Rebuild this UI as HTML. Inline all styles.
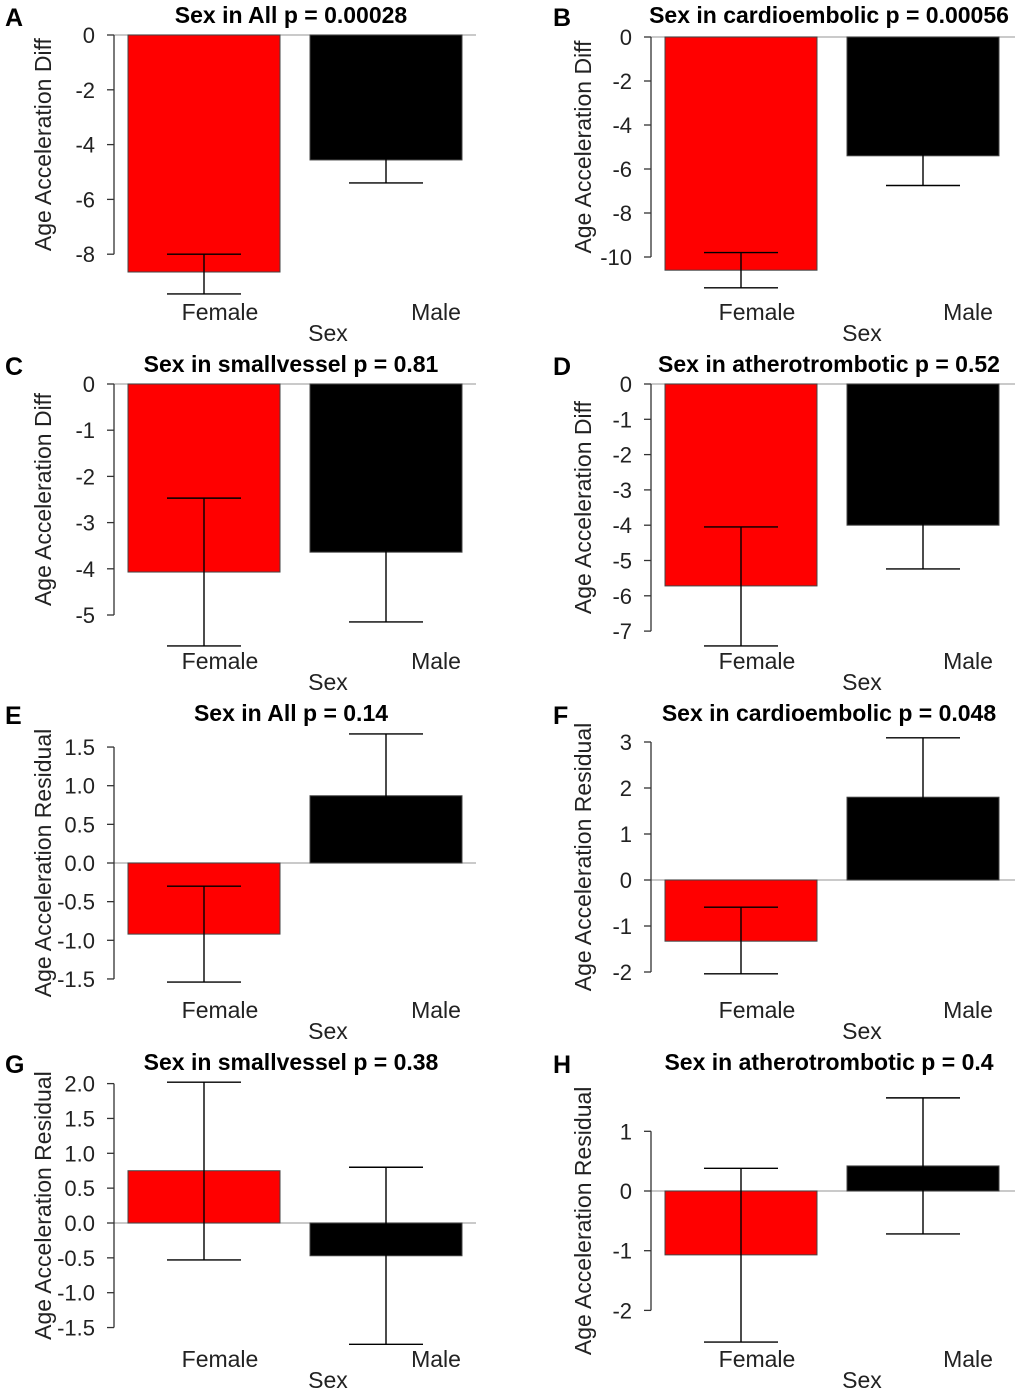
<!DOCTYPE html>
<html><head><meta charset="utf-8"><style>
html,body{margin:0;padding:0;background:#fff;}
svg{display:block;font-family:"Liberation Sans",Arial,sans-serif;}
</style></head><body>
<svg id="fig" width="1020" height="1395" viewBox="0 0 1020 1395" xmlns="http://www.w3.org/2000/svg"></svg>
<script>
// ---- data (per panel) ----
const categories = ["Female", "Male"];
const panelLetters = ["A","B","C","D","E","F","G","H"];
const titles = ["Sex in All p = 0.00028","Sex in cardioembolic p = 0.00056","Sex in smallvessel p = 0.81","Sex in atherotrombotic p = 0.52","Sex in All p = 0.14","Sex in cardioembolic p = 0.048","Sex in smallvessel p = 0.38","Sex in atherotrombotic p = 0.4"];
const yTitles = ["Age Acceleration Diff","Age Acceleration Diff","Age Acceleration Diff","Age Acceleration Diff","Age Acceleration Residual","Age Acceleration Residual","Age Acceleration Residual","Age Acceleration Residual"];
const means = [[-8.65,-4.56],[-10.6,-5.4],[-4.07,-3.64],[-5.72,-4.0],[-0.92,0.87],[-1.33,1.8],[0.75,-0.47],[-1.07,0.42]];
const errLow = [[-9.45,-5.4],[-11.4,-6.75],[-5.67,-5.15],[-7.42,-5.24],[-1.54,0.07],[-2.04,0.5],[-0.53,-1.74],[-2.53,-0.72]];
const errHigh = [[-8.0,-3.7],[-9.8,-4.0],[-2.47,-2.1],[-4.05,-2.8],[-0.3,1.67],[-0.59,3.09],[2.02,0.8],[0.38,1.56]];
const ticks = [[0,-2,-4,-6,-8],[0,-2,-4,-6,-8,-10],[0,-1,-2,-3,-4,-5],[0,-1,-2,-3,-4,-5,-6,-7],[1.5,1.0,0.5,0.0,-0.5,-1.0,-1.5],[3,2,1,0,-1,-2],[2.0,1.5,1.0,0.5,0.0,-0.5,-1.0,-1.5],[1,0,-1,-2]];
const tickDecimals = [0,0,0,0,1,0,1,0];

// ---- geometry (layout only) ----
const geom = [
 {ax:114,y0:35,k:27.4,left:true,top:0},
 {ax:651,y0:37,k:22.0,left:false,top:0},
 {ax:114,y0:384,k:46.2,left:true,top:349},
 {ax:651,y0:384,k:35.3,left:false,top:349},
 {ax:114,y0:863,k:77.3,left:true,top:698},
 {ax:651,y0:880,k:46.0,left:false,top:698},
 {ax:114,y0:1223,k:69.7,left:true,top:1047},
 {ax:651,y0:1191,k:59.7,left:false,top:1047}
];
const svg = document.getElementById('fig');
const NS = "http://www.w3.org/2000/svg";
function mk(tag, attrs, parent){const e=document.createElementNS(NS,tag);for(const a in attrs)e.setAttribute(a,attrs[a]);(parent||svg).appendChild(e);return e;}

geom.forEach((g,i)=>{
  const grp = mk('g',{});
  
  
  const y = v => g.y0 - v*g.k;
  const bx0 = g.left?128:665, bw=152, gap=30;
  const lx = g.left?0:548;
  const titleX = g.left?291:829;
  const catX = g.left?[220,436]:[757,968];
  const sexX = g.left?328:862;
  const baseEnd = g.left?476:1015;
  let t = mk('text',{x:lx+5,y:g.top+26,'font-size':25,'font-weight':'bold',fill:'#000'},grp);
  t.textContent = panelLetters[i];
  
  
  t = mk('text',{x:titleX,y:g.top+23,'font-size':23,'font-weight':'bold','text-anchor':'middle',fill:'#000'},grp);
  t.textContent = titles[i];
  
  
  const ymid = (y(ticks[i][0])+y(ticks[i][ticks[i].length-1]))/2 + (i>=4?0:0);
  const ytx = g.left?51:591;
  t = mk('text',{x:ytx,y:ymid,'font-size':23,'text-anchor':'middle',fill:'#222',transform:`rotate(-90 ${ytx} ${ymid})`},grp);
  t.textContent = yTitles[i];
  
  
  const bl = mk('line',{x1:g.ax,x2:baseEnd,y1:y(0),y2:y(0),stroke:'#aaa','stroke-width':1.2},grp);
  
  
  const tk = ticks[i];
  const axl = mk('line',{x1:g.ax,x2:g.ax,y1:y(tk[0]),y2:y(tk[tk.length-1]),stroke:'#333','stroke-width':1.3},grp);
  
  
  tk.forEach(v=>{
    mk('line',{x1:g.ax-7,x2:g.ax,y1:y(v),y2:y(v),stroke:'#333','stroke-width':1.3},grp);
    const tl = mk('text',{x:g.ax-19,y:y(v)+8,'font-size':22,'text-anchor':'end',fill:'#222'},grp);
    tl.textContent = v.toFixed(tickDecimals[i]);
    
    
  });
  categories.forEach((c,j)=>{
    const m = means[i][j];
    const x = bx0 + j*(bw+gap);
    const r = mk('rect',{x:x,y:Math.min(y(0),y(m)),width:bw,height:Math.abs(y(m)-y(0)),fill:j===0?'#ff0000':'#000',stroke:'#444','stroke-width':1},grp);
    
    
    const cx = x + bw/2;
    const eb = mk('g',{stroke:'#000','stroke-width':1.4},grp);
    
    
    mk('line',{x1:cx,x2:cx,y1:y(errLow[i][j]),y2:y(errHigh[i][j])},eb);
    mk('line',{x1:cx-37,x2:cx+37,y1:y(errLow[i][j]),y2:y(errLow[i][j])},eb);
    mk('line',{x1:cx-37,x2:cx+37,y1:y(errHigh[i][j]),y2:y(errHigh[i][j])},eb);
    const cl = mk('text',{x:catX[j],y:g.top+320,'font-size':23,'text-anchor':'middle',fill:'#222'},grp);
    cl.textContent = c;
    
    
  });
  const sx = mk('text',{x:sexX,y:g.top+341,'font-size':23,'text-anchor':'middle',fill:'#222'},grp);
  sx.textContent = 'Sex';
  
  
});
</script>
</body></html>
